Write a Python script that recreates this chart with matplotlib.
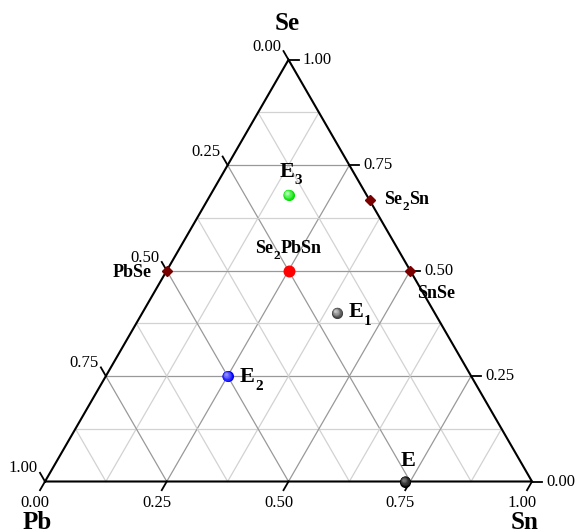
import numpy as np
import matplotlib
matplotlib.use("Agg")
import matplotlib.pyplot as plt
from matplotlib import transforms

plt.rcParams['font.family'] = ['Liberation Serif', 'DejaVu Serif']

# ---------------- data ----------------
vertex_names = ['Pb', 'Sn', 'Se']

tick_values = [0.0, 0.25, 0.5, 0.75, 1.0]
tick_labels = ['0.00', '0.25', '0.50', '0.75', '1.00']

# label parts: (text, is_subscript)
compound_labels = [[('PbSe', False)],
                   [('SnSe', False)],
                   [('Se', False), ('2', True), ('Sn', False)]]
compound_pb = [0.5, 0.0, 0.0]
compound_sn = [0.0, 0.5, 1 / 3]
compound_se = [0.5, 0.5, 2 / 3]

ternary_label = [('Se', False), ('2', True), ('PbSn', False)]
ternary_pb = 0.25
ternary_sn = 0.25
ternary_se = 0.5

eut_labels = [[('E', False)],
              [('E', False), ('1', True)],
              [('E', False), ('2', True)],
              [('E', False), ('3', True)]]
eut_pb = [0.26, 0.20, 0.50, 0.16]
eut_sn = [0.74, 0.40, 0.25, 0.16]
eut_se = [0.00, 0.40, 0.25, 0.68]
eut_colors = ['#000000', '#3a3a3a', '#0000ff', '#00e000']
eut_highlights = ['#777777', '#c8c8c8', '#9090ff', '#b0ffb0']

# ---------------- helpers ----------------
H = np.sqrt(3) / 2


def tern(sn, se):
    sn = np.asarray(sn, dtype=float)
    se = np.asarray(se, dtype=float)
    return sn + se / 2, se * H


fig = plt.figure(figsize=(5.77, 5.31), dpi=100)
ax = fig.add_axes([0, 0, 1, 1])
S = 487.0
ax.set_xlim(-45 / S, (577 - 45) / S)
ax.set_ylim(-(531 - 481.5) / S, 481.5 / S)
ax.axis('off')


def off(dx, dy):
    return transforms.offset_copy(ax.transData, fig=fig, x=dx, y=dy, units='dots')


def sub_label(x0, y0, parts, dx, dy, fs, subfs, drop):
    """Draw a label made of normal and subscript parts, left edge at offset."""
    base = None
    prev = None
    for txt, is_sub in parts:
        if prev is None:
            prev = ax.text(x0, y0, txt, transform=off(dx, dy), ha='left',
                           va='baseline', fontsize=fs, fontweight='bold', zorder=7)
            base = prev
        elif is_sub:
            prev = ax.annotate(txt, xy=(1, 0), xycoords=prev, xytext=(0.3, -drop),
                               textcoords='offset points', ha='left', va='baseline',
                               fontsize=subfs, fontweight='bold', zorder=7)
        else:
            prev = ax.annotate(txt, xy=(1, 0), xycoords=(prev, base), xytext=(0.3, 0),
                               textcoords='offset points', ha='left', va='bottom',
                               fontsize=fs, fontweight='bold', zorder=7)


# ---------------- grid ----------------
grid_vals = np.arange(1, 8) / 8
for g in grid_vals:
    major = abs(g * 4 - round(g * 4)) < 1e-9
    col = '#999999' if major else '#d2d2d2'
    lw = 0.9
    x, y = tern([0, 1 - g], [g, g])
    ax.plot(x, y, color=col, lw=lw, zorder=1)
    x, y = tern([g, g], [0, 1 - g])
    ax.plot(x, y, color=col, lw=lw, zorder=1)
    x, y = tern([1 - g, 0], [0, 1 - g])
    ax.plot(x, y, color=col, lw=lw, zorder=1)

# ---------------- frame ----------------
x, y = tern([0, 1, 0, 0], [0, 0, 1, 0])
ax.plot(x, y, color='black', lw=1.5, zorder=3, solid_joinstyle='miter')

L = 10 / S
tick_fs = 12
for v, lab in zip(tick_values, tick_labels):
    px, py = tern(0, 1 - v)
    ax.plot([px, px - 0.5 * L], [py, py + H * L], color='black', lw=1.3, zorder=3)
    ax.text(px, py, lab, transform=off(-7, 13), ha='right', va='center', fontsize=tick_fs)
    px, py = tern(1 - v, v)
    ax.plot([px, px + L], [py, py], color='black', lw=1.3, zorder=3)
    ax.text(px, py, lab, transform=off(14, 0), ha='left', va='center', fontsize=tick_fs)
    px, py = tern(v, 0)
    ax.plot([px, px - 0.5 * L], [py, py - H * L], color='black', lw=1.3, zorder=3)
    ax.text(px, py, lab, transform=off(-10, -21.5), ha='center', va='center', fontsize=tick_fs)

vx, vy = tern([0, 1, 0], [0, 0, 1])
vert_off = [(-8, -41), (-7, -41), (-1, 36)]
for name, x0, y0, (dx, dy) in zip(vertex_names, vx, vy, vert_off):
    ax.text(x0, y0, name, transform=off(dx, dy), ha='center', va='center',
            fontsize=18, fontweight='bold')

# ---------------- compounds ----------------
cx, cy = tern(compound_sn, compound_se)
ax.plot(cx, cy, linestyle='none', marker='D', ms=5.6, color='#7a0000',
        markeredgecolor='#7a0000', zorder=5)
comp_off = [(-54, -6), (7, -27), (14, -4)]
for parts, x0, y0, (dx, dy) in zip(compound_labels, cx, cy, comp_off):
    sub_label(x0, y0, parts, dx, dy, 13, 9.5, 1.0)

tx, ty = tern(ternary_sn, ternary_se)
ax.plot([tx], [ty], linestyle='none', marker='o', ms=7.6, color='#ff0000',
        markeredgecolor='#ff0000', zorder=5)
sub_label(tx, ty, ternary_label, -33, 17.5, 13, 9.5, 1.0)

# ---------------- eutectics (shaded spheres) ----------------
ex, ey = tern(eut_sn, eut_se)
n = 12
for x0, y0, c0, c1 in zip(ex, ey, eut_colors, eut_highlights):
    c0 = np.array(matplotlib.colors.to_rgb(c0))
    c1 = np.array(matplotlib.colors.to_rgb(c1))
    for i in range(n):
        t = i / (n - 1)
        ms = 8.0 * (1 - 0.8 * t)
        col = c0 * (1 - t) + c1 * t
        ax.plot([x0], [y0], linestyle='none', marker='o', ms=ms, color=col,
                markeredgewidth=0, transform=off(-2.0 * t, 2.0 * t), zorder=6)

eut_off = [(-5, 16), (11, -4), (12, -6), (-9, 18)]
for parts, x0, y0, (dx, dy) in zip(eut_labels, ex, ey, eut_off):
    sub_label(x0, y0, parts, dx, dy, 16, 11, 2.0)

fig.savefig('out.png', dpi=100)
